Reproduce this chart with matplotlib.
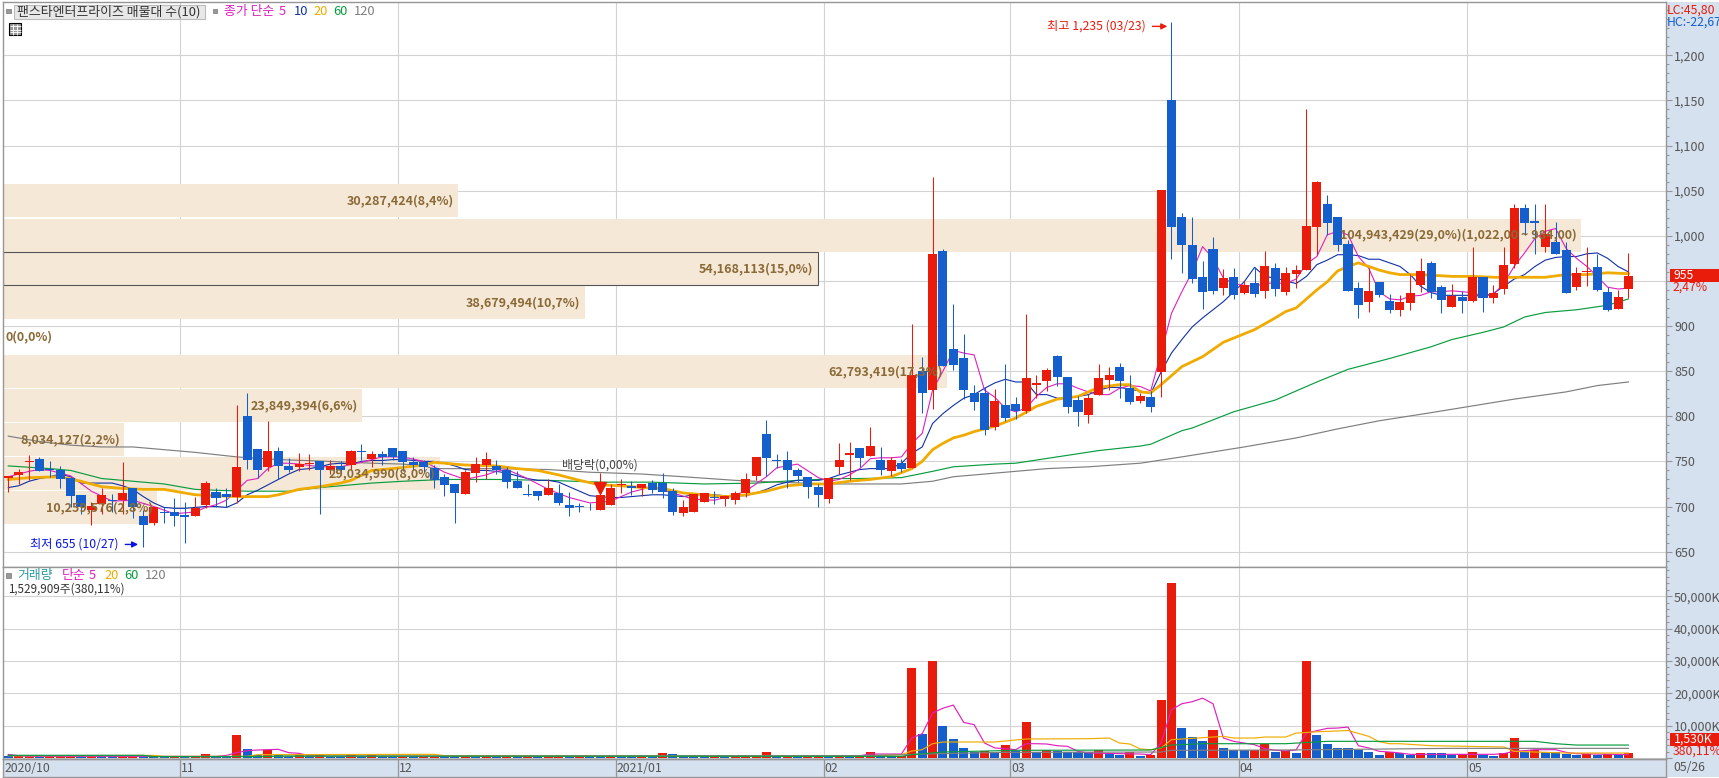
import numpy as np
import matplotlib
matplotlib.use('Agg')
import matplotlib.pyplot as plt
from matplotlib.patches import Rectangle
from matplotlib.ticker import FuncFormatter, MultipleLocator

plt.rcParams['font.family'] = ['Noto Sans CJK KR', 'DejaVu Sans']

opens = [732,735,749,753,742,741,732,713,696,703, 707,707,720,690,682,694,694,691,689,702,
         716,714,711,800,764,744,761,745,744,747, 750,740,745,746,762,753,758,765,761,749,
         749,743,733,725,714,737,746,745,741,728, 714,717,713,715,702,701,700,696,702,724,
         723,720,726,726,717,693,694,705,711,708, 707,715,734,780,752,751,741,733,722,708,
         744,757,765,756,752,739,748,743,850,829, 983,875,865,826,826,788,813,814,806,835,
         839,867,844,818,801,824,840,855,831,817, 821,849,1150,1021,990,954,985,942,954,937,
         948,939,964,938,958,962,1010,1035,1021,991, 942,927,949,928,918,926,946,970,943,921,
         932,928,954,931,941,969,1031,1016,987,993, 984,943,960,965,938,919,941]
highs = [734,742,757,755,750,745,733,713,705,721, 714,749,720,696,700,700,710,705,711,728,
         720,721,813,826,764,795,766,754,759,758, 750,752,750,763,769,761,761,765,761,755,
         752,746,736,725,741,755,760,752,744,739, 725,717,730,725,716,704,704,737,725,731,
         728,725,729,737,720,707,714,715,717,712, 717,737,755,796,758,761,743,733,725,732,
         770,772,765,788,766,755,753,902,866,1065, 985,924,891,835,832,830,858,821,913,846,
         854,868,844,823,825,858,855,859,846,826, 828,1051,1237,1025,1021,972,999,963,964,950,
         965,983,970,965,968,1140,1061,1045,1021,995, 949,964,949,936,934,958,975,972,946,947,
         939,987,954,946,987,1035,1035,1035,1035,1015, 993,965,988,980,943,940,981]
lows = [716,725,729,739,733,720,700,692,680,692, 694,692,687,655,680,682,678,660,689,698,
        699,699,704,742,732,739,731,738,739,741, 692,736,736,741,751,744,746,751,739,741,
        737,720,712,682,714,727,730,736,721,720, 712,707,713,702,690,694,696,696,702,715,
        713,712,715,709,691,689,694,705,703,701, 703,711,729,734,743,721,727,710,700,704,
        736,729,744,756,735,734,738,743,804,808, 856,851,819,807,779,785,795,797,804,820,
        828,834,804,789,793,824,829,820,814,815, 805,821,974,959,948,919,936,934,930,936,
        932,931,933,934,942,962,979,1001,983,939, 909,916,932,914,911,918,938,931,914,921,
        914,927,916,926,936,964,1001,980,982,980, 937,940,944,939,917,919,931]
closes = [734,738,750,739,740,731,712,699,701,713, 706,715,699,680,700,693,690,688,698,726,
          710,711,744,752,740,761,745,741,747,748, 740,745,740,761,760,758,755,755,749,746,
          744,729,724,715,738,747,753,740,727,720, 713,712,721,704,698,699,699,713,720,725,
          721,725,718,716,694,700,714,715,710,712, 715,731,755,754,750,741,734,722,713,732,
          751,759,754,767,741,751,742,846,826,980, 856,857,829,816,785,817,798,806,842,837,
          851,844,810,805,820,842,846,839,816,823, 810,1051,1010,990,952,938,939,953,934,946,
          936,967,941,959,962,1011,1060,1014,990,939, 923,939,934,918,927,937,961,938,929,933,
          928,954,931,937,968,1031,1014,1014,1002,980, 937,959,961,940,918,932,955]
volumes = [600,620,640,600,620,650,680,620,650,600, 580,620,650,600,580,400,500,400,500,1240,
           500,480,7100,2780,800,2470,800,750,900,700, 800,700,650,800,750,780,700,680,700,650,
           680,700,650,600,650,600,650,600,650,600, 650,600,620,650,600,650,600,580,620,600,
           580,650,600,1540,1230,650,600,550,600,550, 600,650,700,1850,700,750,650,700,800,750,
           900,800,800,1950,500,480,700,27900,7500,30000, 10000,6000,3200,2000,2050,2000,4100,2300,11200,2000,
           2400,2050,1850,1800,1750,2400,1550,1000,1750,700, 1000,18000,54100,9400,6600,5350,8750,3200,2400,2350,
           2550,4300,1950,2050,1650,30000,7200,4400,3100,3000, 2570,1950,1030,1950,1550,1030,1650,1550,1500,1030,
           1230,1950,1030,720,1550,6300,1750,2570,1750,1700, 1340,1030,1340,1030,1340,1030,1530]

ma5_idx = [0,1,2,3,4,6,8,10,12,14,16,18,19,20,21,22,23,24,25,26,27,28,30,32,34,36,38,40,42,44,46,47,48,50,
           52,54,56,58,60,62,64,66,68,70,71,72,73,74,76,78,79,80,81,82,83,84,85,86,87,88,89,90,91,92,93,94,95,
           96,97,98,99,100,101,102,103,104,105,106,107,108,109,110,111,112,113,114,115,116,117,118,119,120,121,
           122,123,124,125,126,127,128,129,130,131,132,133,134,135,136,137,138,139,140,141,142,143,144,145,146,
           147,148,149,150,151,152,153,154,155,156]
ma5 = [733,736,739,741,740,734,717,706,707,700,692,694,699,702,707,718,729,731,742,748,748,747,744,744,749,
       755,755,750,738,730,735,739,741,731,719,710,704,706,716,722,715,708,707,713,717,725,733,743,747,732,
       728,730,735,742,753,754,754,755,770,781,829,850,873,870,868,829,821,809,805,809,822,832,836,836,831,
       827,824,824,831,834,833,828,870,914,938,960,988,975,953,947,945,944,947,948,947,952,969,977,1001,1005,
       1001,977,964,938,930,929,933,934,938,938,939,938,937,933,935,947,966,981,997,1005,1008,986,975,966,955,
       943,941,942]
ma10_idx = list(range(157))
ma10 = [721,723,728,731,733,736,733,726,726,726, 726,723,719,711,704,699,698,698,699,700,
        700,699,704,713,718,724,730,736,741,742, 744,747,748,747,750,751,751,752,752,751,
        750,750,748,745,741,740,740,739,737,734, 731,729,729,727,722,717,712,711,710,710,
        711,712,713,713,712,711,713,714,713,712, 712,712,715,719,724,727,729,729,729,731,
        735,738,741,742,742,742,748,759,766,792, 803,812,820,824,831,837,841,838,838,824,
        824,820,820,822,824,829,832,832,830,828, 825,849,870,885,899,909,918,927,938,949,
        965,955,953,950,947,955,968,973,979,979, 978,974,974,970,966,957,944,937,934,934,
        934,934,933,936,944,952,957,966,973,976, 977,977,980,981,975,966,960]
ma20_idx = [0,2,5,7,9,11,13,15,16,18,20,22,25,26,28,30,32,33,35,37,40,41,44,47,49,51,53,55,57,59,61,63,65,67,69,
            71,73,75,77,79,81,83,85,87,88,89,90,91,92,93,95,97,99,101,103,105,107,108,109,110,111,113,115,117,120,
            122,123,124,125,126,127,128,129,130,131,132,133,134,136,139,141,143,146,148,150,152,154,156]
ma20 = [730,732,733,728,722,720,719,719,717,713,712,711,711,713,719,722,726,729,740,742,746,749,746,745,742,
        740,735,729,724,723,721,720,715,713,711,713,717,723,725,725,728,730,733,742,750,763,770,776,779,783,
        789,798,811,819,822,832,835,835,827,826,835,855,866,882,896,909,916,920,930,940,949,961,966,970,966,
        962,959,957,957,955,955,954,954,954,957,957,959,958]
ma60_idx = [0,4,6,9,12,15,18,20,23,27,30,32,35,38,40,42,47,52,57,62,67,72,76,80,82,86,89,91,95,97,101,105,109,110,
            113,114,118,122,126,129,133,137,139,142,144,146,148,151,154,156]
ma60 = [745,742,740,731,728,725,719,718,717,717,721,723,726,728,729,730,730,729,727,727,725,726,729,731,731,732,
        739,744,747,748,755,762,767,769,784,787,805,818,838,852,864,877,885,893,899,910,915,918,923,930]
ma120_idx = [0,3,6,9,12,15,18,22,26,31,35,38,40,41,47,52,56,61,65,70,74,79,82,86,89,91,95,100,104,109,113,119,124,128,
             132,137,145,150,153,156]
ma120 = [778,772,768,766,766,763,760,755,752,750,748,747,745,742,742,741,738,736,733,729,727,725,725,725,728,733,
         737,742,744,748,755,766,776,786,795,804,819,827,834,838]

vol5_idx = [0,1,2,20,21,22,23,24,26,27,28,29,30,42,60,77,82,83,85,86,87,88,89,90,91,92,93,94,95,96,97,98,99,100,101,102,
            103,104,109,110,111,112,113,114,115,116,117,118,119,120,121,122,123,124,125,126,127,128,129,130,131,132,
            133,134,135,143,144,145,146,147,149,150,151,156]
vol5 = [1100,700,500,500,800,1650,2260,2470,2680,1650,1440,720,550,520,500,600,700,1230,1230,1230,6170,7500,13900,
        15400,16360,11000,10300,4630,3090,2880,2570,4420,4420,4320,3800,3600,2060,1540,1230,1030,4630,14900,16770,
        17400,18500,16770,6170,5150,4630,4100,2880,2400,2200,2500,7700,8440,9160,9260,9570,3800,3090,2060,1850,1540,
        1130,1130,1340,2060,2260,2570,2570,1750,1340,1030]
vol20_idx = [0,14,15,23,24,41,42,82,86,87,88,89,90,95,96,98,104,106,107,108,109,110,111,112,113,117,118,120,121,123,
             124,126,129,131,132,133,134,137,144,145,150,156]
vol20 = [700,800,500,500,1030,1130,720,510,1030,2160,2570,4420,4940,4940,5250,5870,5970,6170,4630,4320,2780,2570,3090,
         5660,5870,6690,6170,6170,6480,6480,7700,8100,8500,6690,5040,4420,4420,3800,3400,2060,1540,1540]
vol60_idx = [0,13,14,25,26,82,86,87,90,97,110,112,115,123,127,147,149,151,156]
vol60 = [830,830,450,450,600,510,510,1030,1850,2370,2470,4000,4420,4420,5150,5150,4420,4000,4000]
vol120_idx = [0,13,14,21,22,60,82,86,88,96,111,112,123,139,156]
vol120 = [750,750,400,400,500,700,720,1000,1230,1750,1850,2370,2470,2980,2980]

band_tops = [1057,1019,982,944,906,868,830,792,755,717]
band_volumes = [30.287424,104.943429,54.168113,38.679494,0,62.793419,23.849394,8.034127,29.034990,10.259576]
band_labels = ['30,287,424(8,4%)','104,943,429(29,0%)(1,022,00 ~ 984,00)','54,168,113(15,0%)','38,679,494(10,7%)',
               '0(0,0%)','62,793,419(17,3%)','23,849,394(6,6%)','8,034,127(2,2%)','29,034,990(8,0%)','10,259,576(2,8%)']
month_starts = [17,38,59,79,97,119,141]
month_labels = ['11','12','2021/01','02','03','04','05']

RED = '#E91B0B'
BLUE = '#145FCC'
MAGENTA = '#E020BE'
NAVY = '#1030A8'
GOLD = '#F0AB00'
GREEN = '#0A9C40'
GRAY = '#7F7F7F'
GRID = '#D3D3D3'
STRIP = '#D6E1EF'
EDGE = '#969696'
BROWN = '#8A6A36'
TXT = '#555555'

W, H = 1719, 778
fig = plt.figure(figsize=(W/100, H/100), dpi=100)

def px_axes(x0, y0, x1, y1):
    return fig.add_axes([x0/W, 1-y1/H, (x1-x0)/W, (y1-y0)/H])

bg = px_axes(0, 0, W, H)
bg.set_xlim(0, W)
bg.set_ylim(H, 0)
bg.axis('off')
bg.add_patch(Rectangle((1666, 2), 53, 775, fc=STRIP, ec='none'))
bg.add_patch(Rectangle((3, 759), 1663, 18, fc=STRIP, ec='none'))
bg.set_zorder(-1)

ax1 = px_axes(3, 2, 1666, 567)
ax2 = px_axes(3, 567, 1666, 759)
ax3 = px_axes(3, 759, 1666, 777)

x = np.arange(len(closes))
xlim = (-0.51, 159.62)
up = np.array(closes) >= np.array(opens)
cols = [RED if u else BLUE for u in up]

# price panel
for ax in (ax1, ax2):
    ax.set_xlim(*xlim)
    ax.set_xticks([m-0.5 for m in month_starts])
    ax.tick_params(axis='x', length=0, labelbottom=False)
    ax.grid(True, color=GRID, lw=0.8, zorder=0)
    ax.set_axisbelow(True)
    ax.yaxis.tick_right()
    ax.tick_params(axis='y', which='major', length=4.3, width=0.8, color=EDGE, labelsize=9, labelcolor=TXT, pad=1.5)
    ax.tick_params(axis='y', which='minor', length=2.2, width=0.8, color=EDGE)
    for s in ax.spines.values():
        s.set_color(EDGE)
        s.set_linewidth(1)

ax1.set_ylim(633, 1259)
ax1.set_yticks(np.arange(650, 1201, 50))
ax1.yaxis.set_minor_locator(MultipleLocator(10))
# the 950 label sits under the current price tag in the reference
ax1.yaxis.set_major_formatter(FuncFormatter(lambda v, p: '' if int(v) == 950 else f'{int(v):,}'))

scale = 1.448
for top, vol, lab in zip(band_tops, band_volumes, band_labels):
    ax1.barh(top-18.25, vol*scale, height=36.5, left=xlim[0], color='#F5E8D7', zorder=1, align='center')
    right = xlim[0]+vol*scale
    if vol > 0:
        ax1.annotate(lab, (right, top-18.25), xytext=(-3, 0), textcoords='offset points', ha='right', va='center',
                     color=BROWN, fontsize=9, fontweight='bold', zorder=6)
    else:
        ax1.annotate(lab, (right, top-18.25), xytext=(2, 0), textcoords='offset points', ha='left', va='center',
                     color=BROWN, fontsize=9, fontweight='bold', zorder=6)
ax1.barh(band_tops[2]-18.25, band_volumes[2]*scale, height=37.5, left=xlim[0], fc='none', ec='#555555', lw=0.8, zorder=1.5)

ax1.plot(ma120_idx, ma120, color=GRAY, lw=0.85, zorder=2)
ax1.plot(ma60_idx, ma60, color=GREEN, lw=0.85, zorder=2)
ax1.plot(ma10_idx, ma10, color=NAVY, lw=0.8, zorder=2)
ax1.plot(ma5_idx, ma5, color=MAGENTA, lw=0.8, zorder=2)
ax1.plot(ma20_idx, ma20, color=GOLD, lw=2.0, zorder=2.2)

ax1.vlines(x, lows, highs, colors=cols, lw=0.75, zorder=3)
bottoms = np.minimum(opens, closes)
heights = np.maximum(np.abs(np.array(closes)-np.array(opens)), 1)
ax1.bar(x, heights, bottom=bottoms, width=0.87, color=cols, zorder=3.1)

ax1.annotate('최고 1,235 (03/23)', xy=(111.6, 1232), xytext=(109.5, 1232), ha='right', va='center', color=RED,
             fontsize=8.8, zorder=6, arrowprops=dict(arrowstyle='-|>', color=RED, lw=1, shrinkA=3, shrinkB=0))
ax1.annotate('최저 655 (10/27)', xy=(12.5, 658), xytext=(10.6, 658), ha='right', va='center', color='#0A14E0',
             fontsize=8.8, zorder=6, arrowprops=dict(arrowstyle='-|>', color='#0A14E0', lw=1, shrinkA=3, shrinkB=0))
ax1.text(57, 746, '배당락(0,00%)', ha='center', va='center', color='#444444', fontsize=8.6, zorder=6)
ax1.plot([57], [720], marker='v', color=RED, ms=8, zorder=6)

# volume panel
ax2.set_ylim(-310, 59040)
ax2.set_yticks(np.arange(0, 50001, 10000))
ax2.yaxis.set_minor_locator(MultipleLocator(2000))
ax2.yaxis.set_major_formatter(FuncFormatter(lambda v, p: f'{int(v):,}K' if v > 0 else ''))
vol_cols = [BLUE]+[RED if volumes[i] >= volumes[i-1] else BLUE for i in range(1, len(volumes))]
ax2.bar(x, volumes, width=0.87, color=vol_cols, zorder=3)
ax2.plot(vol5_idx, vol5, color=MAGENTA, lw=0.85, zorder=3.8)
ax2.plot(vol20_idx, vol20, color=GOLD, lw=0.85, zorder=4)
ax2.plot(vol120_idx, vol120, color=GRAY, lw=0.85, zorder=4)
ax2.plot(vol60_idx, vol60, color=GREEN, lw=0.85, zorder=4.1)

# date strip
ax3.set_xlim(*xlim)
ax3.set_ylim(0, 1)
ax3.patch.set_alpha(0)
ax3.set_xticks([])
ax3.set_yticks([])
for s in ax3.spines.values():
    s.set_color(EDGE)
    s.set_linewidth(1)
ax3.vlines([m-0.5 for m in month_starts], 0, 1, color=EDGE, lw=0.9)
ax3.text(-0.35, 0.45, '2020/10', va='center', ha='left', color=TXT, fontsize=8.8)
for m, lab in zip(month_starts, month_labels):
    ax3.text(m-0.42, 0.45, lab, va='center', ha='left', color=TXT, fontsize=8.8)

# overlay texts in pixel coordinates
ov = px_axes(0, 0, W, H)
ov.set_xlim(0, W)
ov.set_ylim(H, 0)
ov.axis('off')
ov.patch.set_alpha(0)
ov.set_zorder(10)
fs = 9.3

ov.add_patch(Rectangle((6, 8.5), 4.5, 4.5, fc='#999999', ec='#777777', lw=0.5))
ov.add_patch(Rectangle((13.5, 4.5), 191, 14, fc='#E8E8E8', ec='#BBBBBB', lw=0.8))
ov.text(17, 11.5, '팬스타엔터프라이즈 매물대 수(10)', color='#333333', fontsize=fs, va='center')
ov.add_patch(Rectangle((212.5, 8.5), 4.5, 4.5, fc='#999999', ec='#777777', lw=0.5))
for xp, s, c in [(224, '종가 단순', MAGENTA), (279, '5', MAGENTA), (294, '10', NAVY), (313, '20', GOLD), (333, '60', GREEN), (354, '120', GRAY)]:
    ov.text(xp, 11.5, s, color=c, fontsize=fs, va='center')

ov.add_patch(Rectangle((8.5, 22.5), 12.5, 12.5, fc='#999999', ec='black', lw=0.8))
ov.hlines([26, 29.5, 32], 9.5, 20.5, color='white', lw=0.6)
ov.vlines([12.5, 16.5], 23.5, 34.5, color='white', lw=0.6)

ov.add_patch(Rectangle((6, 573), 4.5, 4.5, fc='#999999', ec='#777777', lw=0.5))
for xp, s, c in [(17, '거래량', '#2C9A9C'), (62, '단순', MAGENTA), (89, '5', MAGENTA), (104, '20', GOLD), (124, '60', GREEN), (145, '120', GRAY)]:
    ov.text(xp, 575.5, s, color=c, fontsize=fs, va='center')
ov.text(8, 589.5, '1,529,909주(380,11%)', color='#333333', fontsize=8.4, va='center')

ov.text(1667, 10, 'LC:45,80', color=RED, fontsize=8.8, va='center')
ov.text(1667, 22, 'HC:-22,67', color=BLUE, fontsize=8.8, va='center')

ov.add_patch(Rectangle((1670, 269), 49, 12.7, fc=RED, ec='none'))
ov.text(1674, 275.5, '955', color='white', fontsize=8.8, va='center')
ov.text(1673, 287.5, '2,47%', color=RED, fontsize=8.8, va='center')
ov.add_patch(Rectangle((1670, 733), 49, 12.7, fc=RED, ec='none'))
ov.text(1674, 739.5, '1,530K', color='white', fontsize=8.8, va='center')
ov.text(1673, 751.5, '380,11%', color=RED, fontsize=8.8, va='center')
ov.text(1673, 767.5, '05/26', color=TXT, fontsize=8.8, va='center')

fig.savefig('out.png', dpi=100)
